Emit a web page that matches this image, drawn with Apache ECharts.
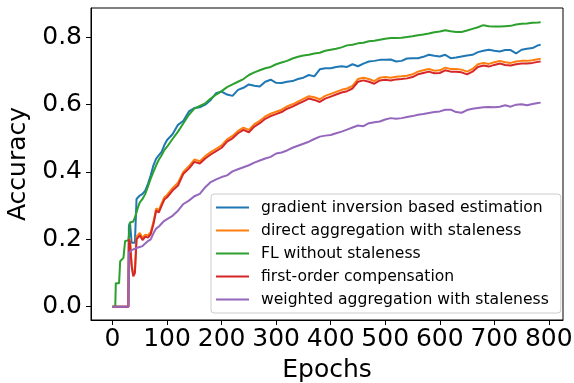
<!DOCTYPE html>
<html>
<head>
<meta charset="utf-8">
<script src="https://cdn.jsdelivr.net/npm/echarts@6/dist/echarts.min.js"></script>
<style>
  html, body { margin: 0; padding: 0; background: #fff; }
  #chart { width: 574px; height: 383px; }
</style>
</head>
<body>
<div id="chart"></div>
<script>
// 横轴：训练轮次（前期取样更密，后期每10轮取一个点）
var epochs = [0, 5, 6, 12, 14, 20, 23, 29, 30, 32, 35, 38, 41, 44, 47, 50, 55, 60, 65, 70, 75, 80, 85, 90, 95, 100,
  110, 120, 130, 140, 150, 160, 170, 180, 190, 200, 210, 220, 230, 240, 250, 260, 270, 280, 290, 300,
  310, 320, 330, 340, 350, 360, 370, 380, 390, 400, 410, 420, 430, 440, 450, 460, 470, 480, 490, 500,
  510, 520, 530, 540, 550, 560, 570, 580, 590, 600, 610, 620, 630, 640, 650, 660, 670, 680, 690, 700,
  710, 720, 730, 740, 750, 760, 770, 780, 785];

var gradientInversion = [0, 0, 0, 0, 0, 0, 0, 0, 0.24, 0.25, 0.19, 0.185, 0.19, 0.32, 0.325, 0.33, 0.335, 0.345, 0.365, 0.39, 0.42, 0.44, 0.45, 0.46, 0.48, 0.495,
  0.512, 0.54, 0.552, 0.58, 0.59, 0.592, 0.6, 0.614, 0.634, 0.639, 0.63, 0.626, 0.644, 0.65, 0.66, 0.656, 0.654, 0.668, 0.674, 0.665,
  0.664, 0.668, 0.67, 0.676, 0.68, 0.688, 0.684, 0.705, 0.708, 0.708, 0.712, 0.714, 0.712, 0.72, 0.714, 0.722, 0.728, 0.73, 0.733, 0.733,
  0.734, 0.728, 0.73, 0.737, 0.738, 0.738, 0.742, 0.748, 0.745, 0.743, 0.748, 0.738, 0.74, 0.743, 0.746, 0.748, 0.756, 0.76, 0.763, 0.76,
  0.758, 0.762, 0.762, 0.752, 0.763, 0.766, 0.768, 0.776, 0.778];

var directAggregation = [0, 0, 0, 0, 0, 0, 0, 0, 0.205, 0.196, 0.128, 0.096, 0.106, 0.208, 0.212, 0.219, 0.205, 0.214, 0.212, 0.222, 0.252, 0.292, 0.287, 0.307, 0.325, 0.332,
  0.352, 0.368, 0.401, 0.417, 0.437, 0.432, 0.447, 0.459, 0.469, 0.479, 0.497, 0.507, 0.522, 0.532, 0.525, 0.542, 0.552, 0.565, 0.573, 0.579,
  0.585, 0.595, 0.601, 0.609, 0.617, 0.625, 0.622, 0.616, 0.626, 0.632, 0.638, 0.644, 0.648, 0.656, 0.676, 0.68, 0.676, 0.67, 0.68, 0.682,
  0.68, 0.683, 0.684, 0.686, 0.69, 0.698, 0.702, 0.706, 0.701, 0.702, 0.71, 0.706, 0.706, 0.704, 0.698, 0.706, 0.72, 0.724, 0.721, 0.726,
  0.73, 0.726, 0.724, 0.728, 0.73, 0.73, 0.732, 0.735, 0.736];

var flWithoutStaleness = [0, 0, 0.07, 0.07, 0.135, 0.145, 0.195, 0.197, 0.21, 0.25, 0.252, 0.253, 0.265, 0.28, 0.297, 0.31, 0.32, 0.335, 0.357, 0.38, 0.4, 0.42, 0.437, 0.45, 0.465, 0.475,
  0.498, 0.52, 0.545, 0.57, 0.588, 0.596, 0.604, 0.618, 0.63, 0.64, 0.652, 0.66, 0.668, 0.676, 0.688, 0.696, 0.702, 0.708, 0.712, 0.72,
  0.725, 0.73, 0.737, 0.742, 0.746, 0.748, 0.752, 0.754, 0.76, 0.763, 0.766, 0.77, 0.776, 0.778, 0.782, 0.784, 0.788, 0.79, 0.793, 0.796,
  0.798, 0.798, 0.799, 0.801, 0.803, 0.806, 0.808, 0.811, 0.815, 0.817, 0.821, 0.818, 0.816, 0.816, 0.82, 0.825, 0.83, 0.836, 0.833, 0.832,
  0.832, 0.833, 0.834, 0.838, 0.84, 0.841, 0.843, 0.844, 0.845];

var firstOrder = [0, 0, 0, 0, 0, 0, 0, 0, 0.2, 0.19, 0.12, 0.09, 0.1, 0.2, 0.205, 0.212, 0.198, 0.208, 0.205, 0.215, 0.245, 0.285, 0.28, 0.3, 0.318, 0.325,
  0.345, 0.36, 0.395, 0.41, 0.43, 0.425, 0.44, 0.452, 0.462, 0.472, 0.49, 0.5, 0.515, 0.525, 0.518, 0.535, 0.545, 0.558, 0.566, 0.572,
  0.578, 0.588, 0.594, 0.602, 0.61, 0.618, 0.614, 0.608, 0.618, 0.624, 0.63, 0.636, 0.64, 0.648, 0.668, 0.672, 0.668, 0.662, 0.672, 0.674,
  0.672, 0.675, 0.676, 0.678, 0.682, 0.69, 0.694, 0.698, 0.693, 0.694, 0.702, 0.698, 0.698, 0.696, 0.69, 0.698, 0.712, 0.716, 0.713, 0.718,
  0.722, 0.718, 0.716, 0.72, 0.722, 0.722, 0.724, 0.727, 0.728];

var weightedAggregation = [0, 0, 0, 0, 0, 0, 0, 0, 0.16, 0.165, 0.168, 0.17, 0.172, 0.175, 0.176, 0.178, 0.18, 0.188, 0.195, 0.2, 0.218, 0.232, 0.238, 0.247, 0.255, 0.26,
  0.27, 0.285, 0.305, 0.315, 0.328, 0.335, 0.355, 0.37, 0.378, 0.385, 0.39, 0.402, 0.408, 0.414, 0.42, 0.428, 0.434, 0.44, 0.445, 0.455,
  0.458, 0.464, 0.472, 0.478, 0.484, 0.49, 0.498, 0.505, 0.508, 0.51, 0.515, 0.52, 0.526, 0.532, 0.538, 0.536, 0.545, 0.548, 0.55, 0.556,
  0.56, 0.558, 0.56, 0.563, 0.566, 0.57, 0.572, 0.575, 0.578, 0.58, 0.585, 0.585, 0.578, 0.576, 0.584, 0.588, 0.59, 0.592, 0.593, 0.592,
  0.594, 0.598, 0.594, 0.6, 0.601, 0.598, 0.602, 0.605, 0.606];

var xTicks = [0, 100, 200, 300, 400, 500, 600, 700, 800];
var yTicks = [0, 0.2, 0.4, 0.6, 0.8];

var seriesNames = [
  'gradient inversion based estimation',
  'direct aggregation with staleness',
  'FL without staleness',
  'first-order compensation',
  'weighted aggregation with staleness'
];
var seriesValues = [gradientInversion, directAggregation, flWithoutStaleness, firstOrder, weightedAggregation];
var colors = ['#1f77b4', '#ff7f0e', '#2ca02c', '#d62728', '#9467bd'];

var font = 'DejaVu Sans';

var myChart = echarts.init(document.getElementById('chart'), null, { renderer: 'canvas' });

var series = seriesValues.map(function (vals, i) {
  return {
    name: seriesNames[i],
    type: 'line',
    symbol: 'none',
    data: epochs.map(function (e, j) { return [e, vals[j]]; }),
    lineStyle: { color: colors[i], width: 2 },
    itemStyle: { color: colors[i] }
  };
});

var option = {
  animation: false,
  backgroundColor: '#fff',
  textStyle: { fontFamily: font, color: '#000' },
  grid: {
    left: 91, top: 8, right: 11, bottom: 63,
    outerBoundsMode: 'none',
    containLabel: false,
    show: true, borderColor: '#000', borderWidth: 1, backgroundColor: 'transparent'
  },
  legend: {
    orient: 'vertical',
    left: 211, top: 194,
    padding: [5, 12, 5, 5],
    itemGap: 6,
    itemWidth: 33,
    itemHeight: 2,
    icon: 'rect',
    backgroundColor: 'rgba(255,255,255,0.8)',
    borderColor: '#cccccc',
    borderWidth: 1,
    borderRadius: 3,
    textStyle: { fontFamily: font, fontSize: 15.6, color: '#000', lineHeight: 17, padding: [0, 0, 0, 7] },
    data: seriesNames
  },
  xAxis: {
    type: 'value',
    min: -39.5,
    max: 826,
    name: 'Epochs',
    nameLocation: 'middle',
    nameGap: 38,
    nameTextStyle: { fontFamily: font, fontSize: 25, color: '#000' },
    splitLine: { show: false },
    axisLine: { show: true, onZero: false, lineStyle: { color: '#000', width: 1 } },
    axisTick: { show: true, length: 5, lineStyle: { color: '#000' }, customValues: xTicks },
    axisLabel: { fontFamily: font, fontSize: 25, color: '#000', margin: 7, customValues: xTicks }
  },
  yAxis: {
    type: 'value',
    min: -0.0395,
    max: 0.887,
    name: 'Accuracy',
    nameLocation: 'middle',
    nameGap: 52,
    nameTextStyle: { fontFamily: font, fontSize: 25, color: '#000' },
    splitLine: { show: false },
    axisLine: { show: true, onZero: false, lineStyle: { color: '#000', width: 1 } },
    axisTick: { show: true, length: 5, lineStyle: { color: '#000' }, customValues: yTicks },
    axisLabel: {
      fontFamily: font, fontSize: 25, color: '#000', margin: 9, customValues: yTicks,
      formatter: function (v) { return v.toFixed(1); }
    }
  },
  series: series
};

myChart.setOption(option);
</script>
</body>
</html>
